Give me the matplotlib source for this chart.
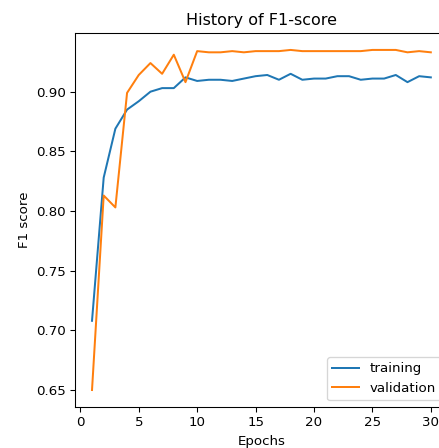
import matplotlib
matplotlib.use("Agg")
import matplotlib.pyplot as plt

epochs = list(range(1, 31))
f1_train = [0.708, 0.828, 0.869, 0.885, 0.892, 0.900, 0.903, 0.903, 0.912, 0.909,
            0.910, 0.910, 0.909, 0.911, 0.913, 0.914, 0.910, 0.915, 0.910, 0.911,
            0.911, 0.913, 0.913, 0.910, 0.911, 0.911, 0.914, 0.908, 0.913, 0.912]
f1_val = [0.650, 0.813, 0.803, 0.899, 0.914, 0.924, 0.915, 0.931, 0.908, 0.934,
          0.933, 0.933, 0.934, 0.933, 0.934, 0.934, 0.934, 0.935, 0.934, 0.934,
          0.934, 0.934, 0.934, 0.934, 0.935, 0.935, 0.935, 0.933, 0.934, 0.933]

fig = plt.figure(figsize=(439 / 96, 448 / 96), dpi=96)
ax = fig.add_axes([0.171, 0.0915, 0.849, 0.835])

ax.plot(epochs, f1_train, label="training")
ax.plot(epochs, f1_val, label="validation")
ax.set_title("History of F1-score")
ax.set_xlabel("Epochs")
ax.set_ylabel("F1 score")
ax.legend(loc="lower right")

fig.savefig("out.png", dpi=96)
